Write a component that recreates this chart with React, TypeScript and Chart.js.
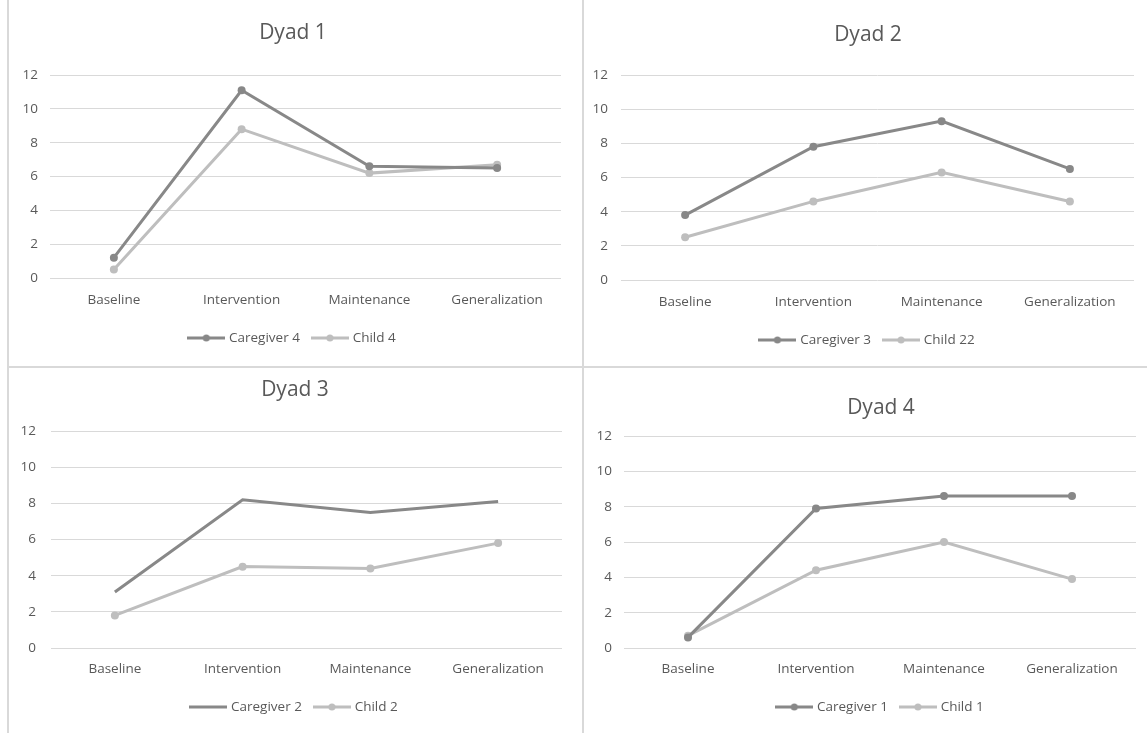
import React, { useEffect, useRef } from "react";
import { Chart, registerables } from "chart.js";

Chart.register(...registerables);

// ---------- data ----------
const categories = ["Baseline", "Intervention", "Maintenance", "Generalization"];

const dyad1Caregiver = [1.2, 11.1, 6.6, 6.5];
const dyad1Child = [0.5, 8.8, 6.2, 6.7];

const dyad2Caregiver = [3.8, 7.8, 9.3, 6.5];
const dyad2Child = [2.5, 4.6, 6.3, 4.6];

const dyad3Caregiver = [3.1, 8.2, 7.5, 8.1];
const dyad3Child = [1.8, 4.5, 4.4, 5.8];

const dyad4Caregiver = [0.6, 7.9, 8.6, 8.6];
const dyad4Child = [0.7, 4.4, 6.0, 3.9];

const yMin = 0;
const yMax = 12;
const yStep = 2;

// ---------- styles ----------
const FONT = "'Open Sans', 'DejaVu Sans', sans-serif";
const TEXT = "#595959";
const CARE = "#888888";
const CHILD = "#bebebe";
const GRID = "#d9d9d9";
const BORDER = "#d9d9d9";
const FS = 13.5; // tick / legend font size
const TITLE_FS = 21;

type PanelCfg = {
  title: string;
  caregiverLabel: string;
  childLabel: string;
  caregiver: number[];
  child: number[];
  caregiverMarkers: boolean;
  left: number;
  top: number;
  w: number;
  h: number;
  chartLeft: number;
  chartRight: number;
  chartTop: number;
  chartBottom: number;
  titleY: number;
  xLabelY: number;
  legendY: number;
  yLabelRight: number;
};

const panels: PanelCfg[] = [
  {
    title: "Dyad 1", caregiverLabel: "Caregiver 4", childLabel: "Child 4",
    caregiver: dyad1Caregiver, child: dyad1Child, caregiverMarkers: true,
    left: 9, top: 0, w: 568, h: 366,
    chartLeft: 41, chartRight: 552, chartTop: 75, chartBottom: 278,
    titleY: 33, xLabelY: 300, legendY: 338, yLabelRight: 29,
  },
  {
    title: "Dyad 2", caregiverLabel: "Caregiver 3", childLabel: "Child 22",
    caregiver: dyad2Caregiver, child: dyad2Child, caregiverMarkers: true,
    left: 584, top: 0, w: 568, h: 366,
    chartLeft: 37, chartRight: 550, chartTop: 75, chartBottom: 280,
    titleY: 35, xLabelY: 302, legendY: 340, yLabelRight: 24,
  },
  {
    title: "Dyad 3", caregiverLabel: "Caregiver 2", childLabel: "Child 2",
    caregiver: dyad3Caregiver, child: dyad3Child, caregiverMarkers: false,
    left: 9, top: 368, w: 572, h: 365,
    chartLeft: 42, chartRight: 553, chartTop: 63, chartBottom: 280,
    titleY: 22, xLabelY: 301, legendY: 339, yLabelRight: 27,
  },
  {
    title: "Dyad 4", caregiverLabel: "Caregiver 1", childLabel: "Child 1",
    caregiver: dyad4Caregiver, child: dyad4Child, caregiverMarkers: true,
    left: 585, top: 369, w: 592, h: 364,
    chartLeft: 39, chartRight: 551, chartTop: 67, chartBottom: 279,
    titleY: 39, xLabelY: 300, legendY: 338, yLabelRight: 27,
  },
];

const ICON_W = 38;
const ICON_BOX = 32;

function legendIcon(color: string, marker: boolean): HTMLCanvasElement {
  const c = document.createElement("canvas");
  c.width = ICON_W;
  c.height = 10;
  const ctx = c.getContext("2d")!;
  ctx.strokeStyle = color;
  ctx.lineWidth = 3;
  ctx.beginPath();
  ctx.moveTo(0, 5);
  ctx.lineTo(ICON_W, 5);
  ctx.stroke();
  if (marker) {
    ctx.fillStyle = color;
    ctx.beginPath();
    ctx.arc(ICON_W / 2, 5, 3.5, 0, Math.PI * 2);
    ctx.fill();
  }
  return c;
}

function Panel({ cfg }: { cfg: PanelCfg }) {
  const ref = useRef<HTMLCanvasElement | null>(null);

  useEffect(() => {
    if (!ref.current) return;
    const rightGap = cfg.w - cfg.chartRight;
    const legendPad = 14;
    const legendH = FS + legendPad + 10;
    const padBottom = cfg.h - 10 - FS / 2 - cfg.legendY;
    const legendTop = cfg.h - padBottom - legendH;
    const xAxisH = legendTop - cfg.chartBottom;
    const xTickPad = cfg.xLabelY - cfg.chartBottom - (FS * 1.2) / 2;
    const titleHalf = (TITLE_FS * 1.2) / 2;
    const icons = [legendIcon(CARE, cfg.caregiverMarkers), legendIcon(CHILD, true)];

    const chart = new Chart(ref.current, {
      type: "line",
      data: {
        labels: categories,
        datasets: [
          {
            label: cfg.caregiverLabel,
            data: cfg.caregiver,
            borderColor: CARE,
            backgroundColor: CARE,
            borderWidth: 3,
            pointRadius: cfg.caregiverMarkers ? 4 : 0,
            pointBorderWidth: 0,
            pointBackgroundColor: CARE,
            tension: 0,
          },
          {
            label: cfg.childLabel,
            data: cfg.child,
            borderColor: CHILD,
            backgroundColor: CHILD,
            borderWidth: 3,
            pointRadius: 4,
            pointBorderWidth: 0,
            pointBackgroundColor: CHILD,
            tension: 0,
          },
        ],
      },
      options: {
        responsive: false,
        maintainAspectRatio: false,
        animation: false,
        layout: { padding: { left: 0, right: 0, top: 0, bottom: padBottom } },
        plugins: {
          title: {
            display: true,
            text: cfg.title,
            color: TEXT,
            font: { family: FONT, size: TITLE_FS, weight: "normal", lineHeight: 1.2 },
            padding: { top: cfg.titleY - titleHalf, bottom: cfg.chartTop - cfg.titleY - titleHalf },
          },
          legend: {
            display: true,
            position: "bottom",
            labels: {
              usePointStyle: true,
              pointStyleWidth: ICON_BOX,
              boxHeight: 10,
              padding: legendPad,
              color: TEXT,
              font: { family: FONT, size: FS },
              generateLabels: (ch: any) =>
                ch.data.datasets.map((ds: any, i: number) => ({
                  text: ds.label,
                  pointStyle: icons[i],
                  fillStyle: ds.borderColor,
                  strokeStyle: ds.borderColor,
                  lineWidth: 0,
                  hidden: false,
                  datasetIndex: i,
                  fontColor: TEXT,
                })),
            },
          },
          tooltip: { enabled: false },
        },
        scales: {
          x: {
            offset: true,
            grid: { display: false, drawTicks: false },
            border: { display: false },
            ticks: {
              color: TEXT,
              font: { family: FONT, size: FS, lineHeight: 1.2 },
              padding: xTickPad,
              maxRotation: 0,
              autoSkip: false,
            },
            afterFit: (s: any) => {
              s.height = xAxisH;
            },
          },
          y: {
            min: yMin,
            max: yMax,
            grid: { color: GRID, lineWidth: 1, drawTicks: false },
            border: { display: false },
            ticks: {
              stepSize: yStep,
              color: TEXT,
              font: { family: FONT, size: FS },
              padding: cfg.chartLeft - cfg.yLabelRight,
            },
            afterFit: (s: any) => {
              s.width = cfg.chartLeft;
            },
          },
          gapRight: {
            type: "linear",
            axis: "y",
            position: "right",
            display: true,
            grid: { display: false, drawTicks: false },
            border: { display: false },
            ticks: { display: false },
            afterFit: (s: any) => {
              s.width = rightGap;
            },
          },
        },
      },
    } as any);
    return () => chart.destroy();
  }, [cfg]);

  return (
    <canvas
      ref={ref}
      width={cfg.w}
      height={cfg.h}
      style={{
        position: "absolute",
        left: cfg.left,
        top: cfg.top,
        width: cfg.w,
        height: cfg.h,
      }}
    />
  );
}

export default function App() {
  return (
    <div
      style={{
        position: "absolute",
        left: 0,
        top: 0,
        width: 1147,
        height: 733,
        background: "#ffffff",
        overflow: "hidden",
      }}
    >
      {panels.map((p) => (
        <Panel key={p.title} cfg={p} />
      ))}
      {/* panel frame lines */}
      <div style={{ position: "absolute", left: 7, top: 0, width: 2, height: 733, background: BORDER }} />
      <div style={{ position: "absolute", left: 582, top: 0, width: 2, height: 733, background: BORDER }} />
      <div style={{ position: "absolute", left: 7, top: 366, width: 1140, height: 2, background: BORDER }} />
    </div>
  );
}
